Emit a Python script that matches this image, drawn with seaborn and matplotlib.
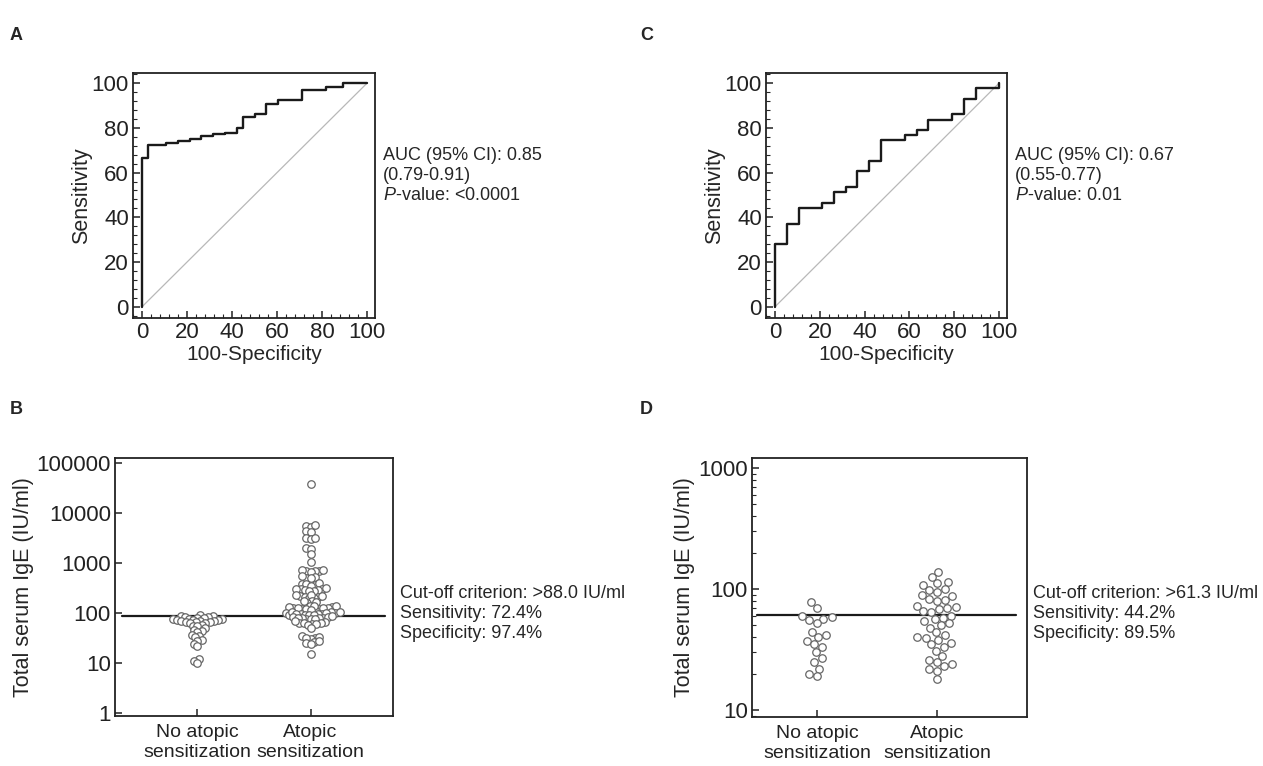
import numpy as np
import pandas as pd
import seaborn as sns
import matplotlib.pyplot as plt
from matplotlib.ticker import AutoMinorLocator, LogLocator, NullFormatter

sns.set_style('ticks')
plt.rcParams['font.family'] = ['Liberation Sans', 'DejaVu Sans']
plt.rcParams['mathtext.fontset'] = 'custom'
plt.rcParams['mathtext.it'] = 'Liberation Sans:italic'
plt.rcParams['mathtext.rm'] = 'Liberation Sans'

# ROC A (100-specificity, sensitivity at each step)
roc_a_x = [0, 0, 2.6, 10.5, 15.8, 21.1, 26.3, 31.6, 36.8, 42.1, 44.7, 50.0, 55.3, 60.5, 71.1, 81.6, 89.5, 100]
roc_a_y = [0, 66.7, 72.4, 73.3, 74.3, 75.2, 76.2, 77.1, 77.6, 80.0, 84.8, 86.2, 90.5, 92.4, 97.1, 98.1, 100, 100]

# ROC C
roc_c_x = [0, 0, 5.3, 10.5, 21.1, 26.3, 31.6, 36.8, 42.1, 47.4, 57.9, 63.2, 68.4, 78.9, 84.2, 89.5, 89.5, 100, 100]
roc_c_y = [0, 27.9, 37.2, 44.2, 46.5, 51.2, 53.5, 60.5, 65.1, 74.4, 76.7, 79.1, 83.7, 86.0, 93.0, 95.3, 97.7, 97.7, 100]

groups = ['No atopic\nsensitization', 'Atopic\nsensitization']

# panel B: total IgE (IU/ml)
b_no_atopic = [92, 87, 85, 84, 82, 80, 78, 76, 75, 74, 73, 72, 71, 70, 69, 68, 67, 66, 65, 64, 63,
               58, 56, 54, 50, 46, 44, 42, 37, 35, 33, 29, 28, 24, 22, 12, 11, 10]
b_atopic = [37500, 5400, 5300, 5600, 4300, 4100, 3100, 3000, 3200, 1950, 1900, 1500, 1050,
            700, 690, 680, 710, 660, 720, 520, 510, 540, 500, 380, 370, 360, 390, 350,
            300, 295, 290, 310, 280, 305, 285, 275, 215, 212, 205, 220, 200, 225, 195, 230,
            170, 165, 160, 175,
            130, 126, 122, 135, 120, 128, 118, 132, 124, 138, 115, 140, 112, 125,
            98, 95, 92, 100, 96, 90, 104, 94, 102, 97, 89, 106, 93, 99,
            84, 80, 78, 82, 76, 79, 86, 74, 81, 77,
            64, 62, 60, 66, 58, 63, 68, 61, 50, 34, 32, 30, 33, 31, 26, 25, 27, 24, 15]

# panel D
d_no_atopic = [78, 70, 60, 59, 57, 55, 52, 44, 42, 40, 37, 35, 33, 30, 27, 25, 22, 20, 19]
d_atopic = [138, 126, 115, 112, 108, 100, 98, 95, 90, 88, 83, 81, 79, 73, 71, 70, 68, 66, 64,
            60, 58, 56, 54, 52, 50, 48, 44, 42, 40, 39, 38, 36, 35, 33, 31, 28, 26, 25, 24, 23, 22, 21, 18]

cutoff_b = 88.0
cutoff_d = 61.3

W, H = 1263, 766
fig = plt.figure(figsize=(W / 100, H / 100), dpi=100)

def px_axes(l, t, r, b):
    return fig.add_axes([l / W, 1 - b / H, (r - l) / W, (b - t) / H])

def style(ax):
    for s in ax.spines.values():
        s.set_visible(True)
        s.set_linewidth(1.3)
        s.set_color('#222222')
    ax.tick_params(direction='in', labelsize=16, length=5, width=1.1, colors='#222222', pad=3)
    ax.tick_params(which='minor', direction='in', length=3, width=0.8)

def roc_panel(ax, x, y, lines, tx):
    sns.lineplot(x=[0, 100], y=[0, 100], ax=ax, color='#b8b8b8', lw=0.9, estimator=None, sort=False)
    sns.lineplot(x=x, y=y, ax=ax, color='#1a1a1a', lw=1.7, estimator=None, sort=False,
                 drawstyle='steps-post')
    ax.set_xlim(-4, 103.5)
    ax.set_ylim(-5, 104.5)
    ax.set_xticks(range(0, 101, 20))
    ax.set_yticks(range(0, 101, 20))
    ax.xaxis.set_minor_locator(AutoMinorLocator(5))
    ax.yaxis.set_minor_locator(AutoMinorLocator(5))
    ax.set_xlabel('100-Specificity', fontsize=15, labelpad=1)
    ax.set_ylabel('Sensitivity', fontsize=15.5, labelpad=0)
    style(ax)
    for i, s in enumerate(lines):
        fig.text(tx / W, 1 - (155 + 20 * i) / H, s, fontsize=13, va='center')

def dot_panel(ax, no_vals, at_vals, cut, ylim, ticks, lines, tx, xlim, hx, pack):
    df = pd.DataFrame({'group': [groups[0]] * len(no_vals) + [groups[1]] * len(at_vals),
                       'ige': no_vals + at_vals})
    ax.set_yscale('log')
    sns.swarmplot(data=df, x='group', y='ige', order=groups, ax=ax, color='white',
                  edgecolor='#666666', linewidth=0.9, size=pack, marker='o')
    ax.axhline(cut, xmin=hx[0], xmax=hx[1], color='#1a1a1a', lw=1.6)
    ax.set_xlim(*xlim)
    ax.set_ylim(*ylim)
    ax.set_yticks(ticks)
    ax.set_yticklabels([str(t) for t in ticks])
    ax.yaxis.set_minor_locator(LogLocator(base=10, subs=np.arange(2, 10)))
    ax.yaxis.set_minor_formatter(NullFormatter())
    ax.set_xlabel('')
    ax.set_ylabel('Total serum IgE (IU/ml)', fontsize=15.5, labelpad=2)
    style(ax)
    ax.tick_params(axis='x', labelsize=14, pad=6)
    for i, s in enumerate(lines):
        fig.text(tx / W, 1 - (593 + 20 * i) / H, s, fontsize=13, va='center')

ax_a = px_axes(133, 73, 375, 318)
roc_panel(ax_a, roc_a_x, roc_a_y, ['AUC (95% CI): 0.85', '(0.79-0.91)', '$P$-value: <0.0001'], 383)

ax_c = px_axes(766, 73, 1007, 318)
roc_panel(ax_c, roc_c_x, roc_c_y, ['AUC (95% CI): 0.67', '(0.55-0.77)', '$P$-value: 0.01'], 1015)

ax_b = px_axes(115, 458, 393, 716)
dot_panel(ax_b, b_no_atopic, b_atopic, cutoff_b, (0.87, 1.25e5), [1, 10, 100, 1000, 10000, 100000],
          ['Cut-off criterion: >88.0 IU/ml', 'Sensitivity: 72.4%', 'Specificity: 97.4%'],
          400, (-0.73, 1.73), (0.025, 0.97), 2.1)

ax_d = px_axes(752, 458, 1027, 717)
dot_panel(ax_d, d_no_atopic, d_atopic, cutoff_d, (8.75, 1210), [10, 100, 1000],
          ['Cut-off criterion: >61.3 IU/ml', 'Sensitivity: 44.2%', 'Specificity: 89.5%'],
          1033, (-0.54, 1.75), (0.02, 0.96), 4.8)

for lab, x, y in [('A', 10, 35), ('B', 10, 410), ('C', 640, 35), ('D', 640, 410)]:
    fig.text(x / W, 1 - y / H, lab, fontsize=13, fontweight='bold', va='center')

# lay out the swarms with small markers, then freeze them and draw the circles
# larger so they overlap like the original figure
fig.canvas.draw()
for ax in (ax_b, ax_d):
    for coll in ax.collections:
        if 'draw' in coll.__dict__:
            del coll.draw
        coll.set_sizes([5.4 ** 2])

fig.savefig('out.png', dpi=100)
